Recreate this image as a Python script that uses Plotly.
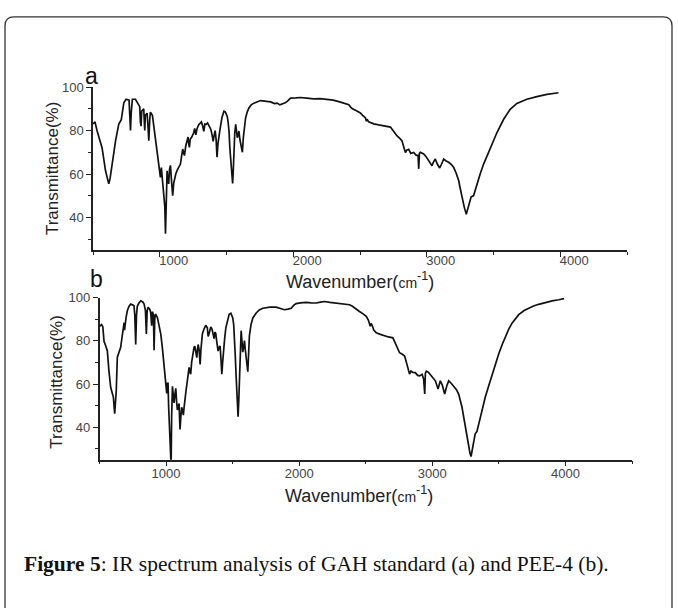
import plotly.graph_objects as go

# ---- data ----
wn_a = [500, 515, 530, 545, 568, 594, 610, 618, 628, 643, 669, 693, 705, 712, 731, 748, 770, 776, 781, 786, 795, 818,
        840, 850, 855, 860, 865, 880, 885, 888, 892, 905, 912, 918, 925, 930, 945, 968, 993, 1000, 1005, 1012, 1020,
        1030, 1038, 1043, 1048, 1055, 1061, 1067, 1073, 1080, 1088, 1097, 1105, 1112, 1120, 1130, 1142, 1155, 1163,
        1172, 1178, 1185, 1195, 1204, 1212, 1217, 1222, 1228, 1240, 1254, 1262, 1270, 1280, 1292, 1312, 1322, 1330,
        1338, 1348, 1358, 1370, 1383, 1392, 1400, 1408, 1415, 1422, 1429, 1436, 1442, 1450, 1466, 1481, 1491, 1506,
        1512, 1519, 1525, 1531, 1539, 1546, 1551, 1556, 1562, 1569, 1575, 1581, 1587, 1593, 1600, 1606, 1612, 1619,
        1626, 1634, 1643, 1655, 1668, 1685, 1705, 1755, 1790, 1830, 1860, 1880, 1900, 1918, 1940, 1955, 1980, 2020,
        2055, 2100, 2154, 2200, 2254, 2300, 2354, 2390, 2416, 2430, 2441, 2470, 2503, 2520, 2541, 2548, 2553, 2565,
        2580, 2603, 2640, 2678, 2710, 2728, 2750, 2778, 2800, 2815, 2830, 2840, 2850, 2865, 2880, 2902, 2920, 2935,
        2940, 2945, 2952, 2977, 2995, 3014, 3039, 3050, 3064, 3080, 3097, 3110, 3127, 3145, 3164, 3185, 3201, 3220,
        3239, 3252, 3264, 3281, 3296, 3305, 3314, 3332, 3351, 3376, 3400, 3426, 3476, 3526, 3576, 3625, 3675, 3750,
        3825, 3900, 3987]
t_a = [83, 84, 80, 77, 72, 61.5, 57, 55.5, 58, 64.6, 75.3, 83, 84.5, 85, 92.8, 94.4, 94, 88, 80, 88, 94.4, 94.4,
       92, 91, 84, 82, 89, 90, 83, 80, 87, 88, 82, 75.3, 85, 88.5, 87, 76.8, 66, 61, 58.5, 63, 57,
       49.3, 45, 32.6, 50, 61.5, 57, 55.5, 62, 64, 57, 50, 56, 58.5, 60, 61.7, 63, 64.6, 68,
       71.5, 70, 68.5, 73, 75.3, 77, 74, 72.3, 76, 77, 79, 81, 78, 81, 82.7, 84, 82, 79.6,
       83, 82.9, 83.5, 82, 80.5, 78, 75, 78, 80, 76, 67.7, 74, 77.4, 80, 86, 88.9, 88.6, 86.4,
       84, 79.6, 72, 67.4, 58.5, 55.7, 62, 73.7, 79, 82.8, 79, 76.7, 78, 79.8, 76, 73.7, 71, 70,
       76.7, 82, 85.8, 88.5, 90.4, 91.8, 92.6, 93.8, 93.6, 93.2, 92.4, 92.6, 91.8, 92.2, 92.8, 93.4, 94.9, 95,
       95.2, 94.9, 94.6, 94.7, 94.5, 94, 93.1, 92.4, 91.9, 90.8, 90.1, 89.2, 88.1, 87, 85.8, 84.3, 85.2, 84,
       83.6, 83.1, 82.6, 82.1, 81.9, 81.6, 79.8, 77.5, 76.3, 75.2, 72, 69.9, 71, 71.4, 69.5, 69.9, 68.7, 68.5,
       62.4, 69.5, 70, 69.2, 68, 66.1, 63.8, 65.5, 66.9, 64.5, 62.8, 64.5, 66.9, 66, 65.4, 64.3, 63.1, 60.5,
       57, 53, 49.4, 44.8, 41.5, 43.5, 46.3, 49.4, 50.1, 55.5, 60, 64.6, 72.3, 79.1, 85.2, 89.8, 92.5, 94.4,
       95.6, 96.6, 97.4]

wn_b = [500, 515, 525, 534, 545, 559, 571, 584, 595, 604, 614, 620, 626, 634, 645, 659, 670, 679, 685, 688, 692,
        700, 709, 722, 735, 759, 765, 772, 778, 784, 796, 810, 825, 835, 845, 852, 858, 865, 878, 885, 892, 898,
        905, 910, 915, 920, 935, 948, 960, 972, 985, 992, 998, 1005, 1010, 1015, 1019, 1023, 1028, 1033, 1038,
        1042, 1048, 1054, 1060, 1066, 1073, 1079, 1085, 1092, 1098, 1101, 1105, 1110, 1117, 1123, 1130, 1135,
        1140, 1150, 1160, 1167, 1173, 1180, 1185, 1192, 1203, 1210, 1216, 1224, 1231, 1236, 1241, 1248, 1253,
        1256, 1262, 1273, 1285, 1298, 1310, 1316, 1323, 1330, 1336, 1345, 1353, 1361, 1367, 1373, 1380, 1391,
        1398, 1406, 1412, 1419, 1425, 1431, 1440, 1449, 1460, 1474, 1487, 1501, 1508, 1514, 1520, 1526, 1534,
        1541, 1546, 1551, 1558, 1564, 1570, 1576, 1582, 1589, 1595, 1601, 1608, 1614, 1620, 1626, 1638, 1652,
        1677, 1700, 1727, 1780, 1827, 1860, 1889, 1915, 1940, 1960, 1977, 2010, 2053, 2090, 2128, 2160, 2190,
        2230, 2278, 2330, 2378, 2400, 2416, 2435, 2453, 2480, 2504, 2520, 2534, 2540, 2548, 2560, 2579, 2610,
        2641, 2670, 2704, 2730, 2754, 2775, 2792, 2810, 2829, 2840, 2854, 2872, 2890, 2905, 2923, 2935, 2943,
        2948, 2955, 2970, 2985, 3005, 3023, 3043, 3060, 3075, 3093, 3108, 3123, 3140, 3160, 3180, 3198, 3210,
        3223, 3235, 3248, 3260, 3273, 3283, 3291, 3300, 3310, 3322, 3335, 3348, 3361, 3380, 3398, 3425, 3449,
        3475, 3498, 3525, 3549, 3575, 3599, 3625, 3649, 3690, 3724, 3760, 3799, 3850, 3900, 3950, 3990]
t_b = [86.7, 87.5, 86.5, 79.8, 78, 75.3, 66, 58.5, 56, 54, 46.3, 50, 57, 72.4, 75, 77, 82, 86.1, 88.4, 85, 88.4,
       91, 93.9, 96, 97, 96.3, 92, 78.3, 92, 96, 97.5, 98.5, 98, 97, 94, 83.2, 94, 95.5, 94.5, 93, 87, 93.5,
       92, 75.6, 90, 92.4, 90.8, 87.5, 83.2, 77, 69.4, 63, 58.8, 55.7, 60.3, 60.3, 50, 41.7, 30, 22, 22,
       45, 59, 55, 51.3, 55, 58, 52, 48, 50, 51, 45, 39, 44, 49.3, 48, 45.6, 49,
       52.4, 57, 61.6, 65, 67.7, 65.5, 64.6, 70, 76, 77, 77.5, 74, 72.2, 76, 78.3, 76, 71,
       69.1, 76, 83.3, 85.5, 87.2, 86, 82, 83.3, 85, 86.4, 85.5, 82, 81, 84, 83.5, 80, 75.3,
       77, 77.6, 72, 64.6, 70, 76, 81, 86, 89.5, 92.3, 92.8, 90.6, 87.5, 82.3, 73, 64, 51.8,
       44.9, 52, 64, 76, 84.7, 80, 74.8, 77, 80.1, 76, 71.8, 68, 65.7, 74, 82.3, 87.5, 90.6,
       92.9, 94.3, 95.1, 95.6, 95.6, 95, 94.4, 94.7, 95.1, 96.5, 97.2, 97.6, 97.8, 97.6, 97.5, 97.9, 98.2,
       97.8, 97.5, 97.2, 96.7, 96, 95.2, 94.4, 93.6, 92.5, 91.3, 89.5, 86.7, 88, 87.2, 85, 83.7, 83,
       82.2, 81.8, 81.4, 78, 74.5, 73.8, 73, 69, 64.6, 66, 65.4, 65.3, 64, 63.8, 64.5, 62.3, 55.4,
       65, 66, 65.5, 64.5, 63, 61.5, 57.7, 61.5, 59.5, 55.4, 59, 61.5, 60.5, 59.2, 57.5, 55.4, 52.5,
       49.3, 45, 40.2, 35.5, 31, 28, 26.5, 30, 34.1, 37, 38, 41.5, 44.8, 49.5, 54, 59.5, 64.6,
       69.5, 73.8, 78.3, 82.2, 85.5, 88.2, 90.4, 92.1, 94, 95.1, 96.1, 96.9, 97.8, 98.5, 99, 99.5]

x_ticks = [1000, 2000, 3000, 4000]
y_ticks = [40, 60, 80, 100]
panel_labels = ["a", "b"]
x_title = "Wavenumber(<span style='font-size:14px'>cm</span><sup>-1</sup>)"
y_title = "Transmittance(%)"
caption = "<b>Figure 5</b>: IR spectrum analysis of GAH standard (a) and PEE-4 (b)."

W, H = 678, 608


def px(x):
    return x / W


def py(y):
    return 1 - y / H


fig = go.Figure()
fig.add_trace(go.Scatter(x=wn_a, y=t_a, mode="lines", line=dict(color="#111", width=1.7),
                         xaxis="x", yaxis="y", showlegend=False))
fig.add_trace(go.Scatter(x=wn_b, y=t_b, mode="lines", line=dict(color="#111", width=1.7),
                         xaxis="x2", yaxis="y2", showlegend=False))

tickfont = dict(family="Liberation Sans, Arial, sans-serif", size=13, color="#444")
common_x = dict(range=[500, 4500], tickvals=x_ticks, showline=True, linecolor="#222", linewidth=1.5,
                ticks="outside", ticklen=5, tickcolor="#222", tickwidth=1.2, showgrid=False, zeroline=False,
                tickfont=tickfont,
                minor=dict(ticks="outside", ticklen=3, tickcolor="#222", dtick=500, tick0=500, showgrid=False))
common_y = dict(range=[25, 100], tickvals=y_ticks, showline=True, linecolor="#222", linewidth=1.5,
                ticks="outside", ticklen=5, tickcolor="#222", tickwidth=1.2, showgrid=False, zeroline=False,
                tickfont=tickfont,
                minor=dict(ticks="outside", ticklen=3, tickcolor="#222", dtick=10, tick0=0, showgrid=False))

fig.update_layout(
    width=W, height=H, margin=dict(l=0, r=0, t=0, b=0),
    paper_bgcolor="white", plot_bgcolor="white",
    xaxis=dict(domain=[px(93), px(627)], anchor="y", ticklabelshift=14, ticklabelstandoff=-8, **common_x),
    yaxis=dict(domain=[py(246), py(81)], anchor="x", **common_y),
    xaxis2=dict(domain=[px(99.5), px(632)], anchor="y2", ticklabelstandoff=-4, **common_x),
    yaxis2=dict(domain=[py(458), py(294)], anchor="x2", **common_y),
)

lab_font = dict(family="Liberation Sans, Arial, sans-serif", size=18, color="#222")
ylab_font = dict(family="Liberation Sans, Arial, sans-serif", size=17, color="#222")
ann = [
    dict(x=px(91), y=py(70), text=panel_labels[0], font=dict(family="Liberation Sans, Arial", size=23, color="#111")),
    dict(x=px(96), y=py(275), text=panel_labels[1], font=dict(family="Liberation Sans, Arial", size=23, color="#111")),
    dict(x=px(52), y=py(163), text=y_title, textangle=-90, font=ylab_font),
    dict(x=px(57), y=py(379), text=y_title, textangle=-90, font=ylab_font),
    dict(x=px(360), y=py(277), text=x_title, font=lab_font),
    dict(x=px(359), y=py(493), text=x_title, font=lab_font),
]
for a in ann:
    a.update(xref="paper", yref="paper", showarrow=False, xanchor="center", yanchor="middle")
fig.update_layout(annotations=ann)
fig.add_annotation(x=px(22), y=py(563), xref="paper", yref="paper", showarrow=False,
                   xanchor="left", yanchor="middle", text=caption,
                   font=dict(family="Liberation Serif, Times New Roman, serif", size=21.5, color="#111"))

# rounded frame around the figure
x0, x1, y0, y1, r = 5, 672, 10, 620, 9
path = (f"M {px(x0)},{py(y1)} L {px(x0)},{py(y0 + r)} Q {px(x0)},{py(y0)} {px(x0 + r)},{py(y0)} "
        f"L {px(x1 - r)},{py(y0)} Q {px(x1)},{py(y0)} {px(x1)},{py(y0 + r)} L {px(x1)},{py(y1)}")
fig.add_shape(type="path", path=path, xref="paper", yref="paper", line=dict(color="#333", width=1.3))

fig.write_html("out.html", config={"displayModeBar": False},
               post_script="document.body.style.margin='0';document.body.style.overflow='hidden';")
